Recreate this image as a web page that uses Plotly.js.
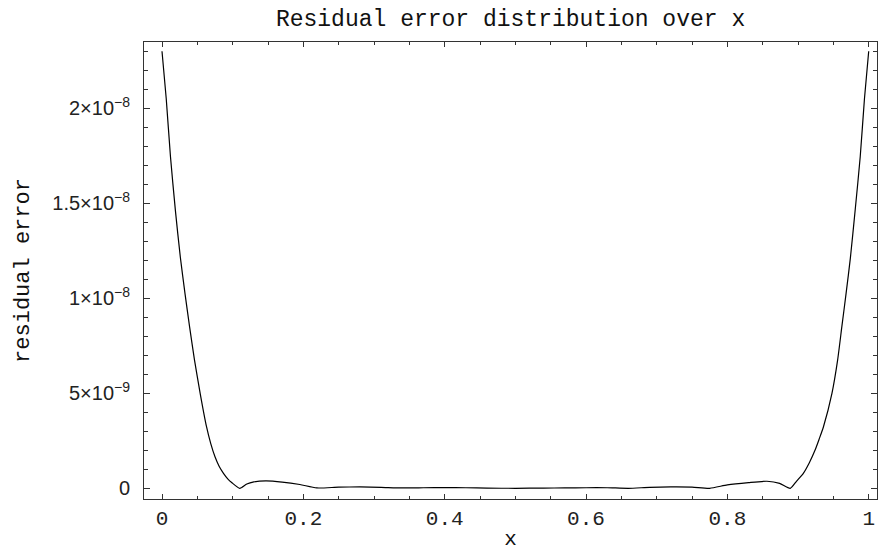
<!DOCTYPE html>
<html>
<head>
<meta charset="utf-8">
<script src="https://cdn.plot.ly/plotly-3.0.1.min.js"></script>
<style>html,body{margin:0;padding:0;background:#fff;}#chart{width:878px;height:552px;}</style>
</head>
<body>
<div id="chart"></div>
<script>
// x positions sampled along the curve
const xValues = [0, 0.006, 0.012, 0.019, 0.026, 0.0325, 0.039, 0.046, 0.054, 0.063, 0.069, 0.075, 0.081, 0.087, 0.093, 0.099, 0.110,
  0.120, 0.130, 0.147, 0.170, 0.195, 0.219, 0.25, 0.28, 0.31, 0.34, 0.37, 0.40, 0.43, 0.46, 0.50, 0.54, 0.57,
  0.60, 0.63, 0.66, 0.69, 0.72, 0.75, 0.775, 0.80, 0.83, 0.856, 0.874, 0.889, 0.898, 0.9075, 0.916, 0.924, 0.930, 0.936,
  0.948, 0.956, 0.962, 0.968, 0.974, 0.981, 0.988, 0.994, 1.0];
// residual error values
const residualError = [2.30e-8, 2.05e-8, 1.745e-8, 1.46e-8, 1.215e-8, 1.026e-8, 8.51e-9, 6.75e-9, 5.0e-9, 3.24e-9,
  2.35e-9, 1.66e-9, 1.15e-9, 7.9e-10, 5.0e-10, 2.9e-10, 0.0,
  2.3e-10, 3.4e-10, 3.9e-10, 3.3e-10, 2.0e-10, 2e-11, 6e-11, 7e-11, 5e-11, 2e-11, 3e-11, 4e-11, 3e-11, 1e-11,
  0.0, 1e-11, 2e-11, 3e-11, 3e-11, 0.0, 5e-11, 7e-11, 6e-11, 0.0, 1.8e-10, 3.0e-10, 3.7e-10, 2.6e-10, 0.0,
  3.8e-10, 7.9e-10, 1.35e-9, 2.0e-9, 2.6e-9, 3.24e-9, 5.0e-9, 6.75e-9, 8.51e-9, 1.026e-8, 1.21e-8, 1.47e-8, 1.745e-8, 2.05e-8, 2.30e-8];
// y tick values and labels
const yTickValues = [0, 5e-9, 1e-8, 1.5e-8, 2e-8];
const yTickLabels = ['0', '5×10<sup>−9</sup>', '1×10<sup>−8</sup>', '1.5×10<sup>−8</sup>', '2×10<sup>−8</sup>'];
const titleText = 'Residual error distribution over x';
const xTitle = 'x';
const yTitle = 'residual error';

const mono = 'Liberation Mono, Courier New, monospace';
const sans = 'Liberation Sans, Arial, sans-serif';

const trace = {
  x: xValues, y: residualError, type: 'scatter', mode: 'lines',
  line: {color: '#000', width: 1.2, shape: 'spline', smoothing: 0.6}, hoverinfo: 'skip'
};

const layout = {
  width: 878, height: 552,
  margin: {l: 144, r: 1, t: 42, b: 53, pad: 0},
  paper_bgcolor: '#fff', plot_bgcolor: '#fff',
  showlegend: false,
  title: {text: titleText, x: 0.5815, xref: 'container', xanchor: 'center', y: 0.967, yref: 'container', yanchor: 'middle',
    font: {family: mono, size: 23, color: '#111'}},
  xaxis: {
    range: [-0.02547, 1.01174], showgrid: false, zeroline: false,
    showline: true, linecolor: '#333', linewidth: 1, mirror: 'allticks',
    ticks: 'inside', ticklen: 5, tickcolor: '#333', tickwidth: 1,
    tickmode: 'linear', tick0: 0, dtick: 0.2,
    tickfont: {family: mono, size: 21, color: '#222'},
    minor: {ticks: 'inside', ticklen: 3, tickcolor: '#333', tickmode: 'linear', tick0: 0, dtick: 0.05, showgrid: false},
    title: {text: xTitle, font: {family: mono, size: 21, color: '#111'}, standoff: 0},
    automargin: false
  },
  yaxis: {
    range: [-5.63e-10, 2.349e-8], showgrid: false, zeroline: false,
    showline: true, linecolor: '#333', linewidth: 1, mirror: 'allticks',
    ticks: 'inside', ticklen: 6, tickcolor: '#333', tickwidth: 1,
    tickmode: 'array', tickvals: yTickValues, ticktext: yTickLabels,
    ticklabelstandoff: 9,
    tickfont: {family: sans, size: 20, color: '#222'},
    minor: {ticks: 'inside', ticklen: 4, tickcolor: '#333', tickmode: 'linear', tick0: 0, dtick: 1e-9, showgrid: false},
    title: {text: yTitle, font: {family: mono, size: 22, color: '#111'}, standoff: 16},
    automargin: false
  }
};

Plotly.newPlot('chart', [trace], layout, {displayModeBar: false, staticPlot: true});
</script>
</body>
</html>
